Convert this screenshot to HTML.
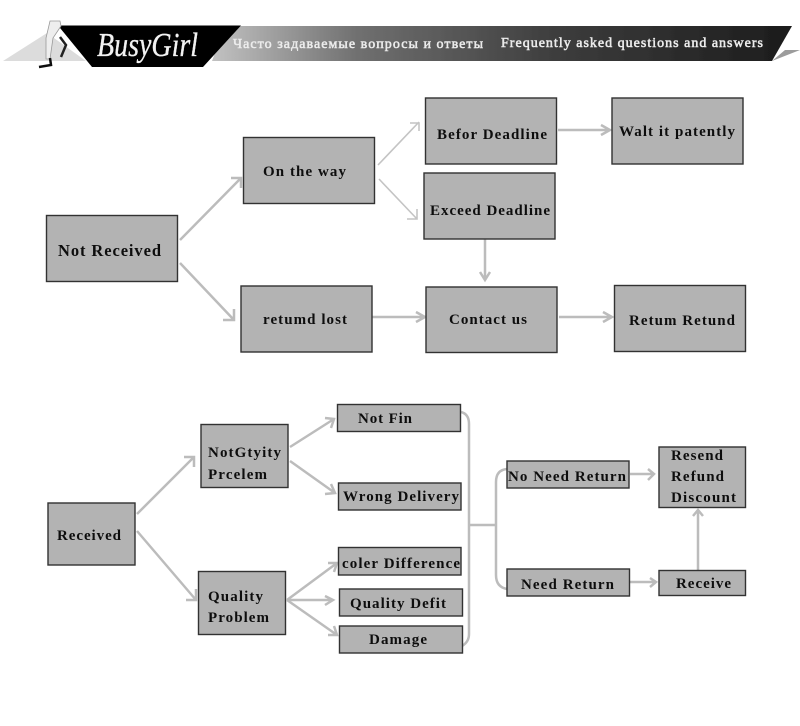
<!DOCTYPE html>
<html><head><meta charset="utf-8"><style>
html,body{margin:0;padding:0;background:#fff}
svg{display:block}
text{font-family:"Liberation Serif",serif;font-weight:bold;fill:#111;font-size:15px}
.b{fill:#b3b3b3;stroke:#333;stroke-width:1.4}
.c{fill:none;stroke:#bcbcbc;stroke-width:2.5}
.t{fill:none;stroke:#c4c4c4;stroke-width:1.6}
.h{fill:#ececec;font-size:14px;font-weight:normal;stroke:#ececec;stroke-width:.55}
</style></head><body>
<svg width="800" height="726" viewBox="0 0 800 726" xmlns="http://www.w3.org/2000/svg">
<defs>
<linearGradient id="g" x1="0" x2="1" y1="0" y2="0"><stop offset="0" stop-color="#c2c2c2"/><stop offset=".25" stop-color="#707070"/><stop offset=".6" stop-color="#3c3c3c"/><stop offset="1" stop-color="#1c1c1c"/></linearGradient>
<filter id="s" filterUnits="userSpaceOnUse" x="0" y="0" width="800" height="726"><feGaussianBlur stdDeviation="0.35"/></filter>
</defs>
<rect width="800" height="726" fill="#fff"/>
<g filter="url(#s)">
<!-- header -->
<polygon points="3,61 47,33 86,61" fill="#dcdcdc"/>
<polygon points="772,61 785,50 800,50" fill="#9c9c9c"/>
<polygon points="225,26 792,26 772,61 212,61" fill="url(#g)"/>
<polygon points="58,25.5 241,25.5 203,67 92,67" fill="#050505"/>
<path d="M50,21 L60,21 L61,26 L53,38 L50,59 L46,59 L46,38 Z" fill="#eeeeee" stroke="#999" stroke-width=".8"/>
<path d="M60,37 L66,45 L61,57" fill="none" stroke="#222" stroke-width="2.5"/>
<path d="M50,58 L51,65 L39,67" fill="none" stroke="#111" stroke-width="2.5"/>
<text x="97" y="56" textLength="101" lengthAdjust="spacingAndGlyphs" style="font-size:34px;font-weight:normal;font-style:italic;fill:#f2f2f2;stroke:#f2f2f2;stroke-width:.3">BusyGirl</text>
<text class="h" x="233" y="48" textLength="250">Часто задаваемые вопросы и ответы</text>
<text class="h" x="501" y="47" textLength="262">Frequently asked questions and answers</text>

<!-- connectors top -->
<g class="c">
<path d="M180,240 L241,178 M231,178 H241 V188"/>
<path d="M180,263 L234,320 M234,309 V320 H223"/>
<path class="t" d="M378,165 L419,122 M410,123 H419 V131"/>
<path class="t" d="M379,179 L417,219 M417,209 V219 H407"/>
<path d="M558,130 H610 M601,125 L610,130 L601,135"/>
<path d="M372,317 H425 M416,312 L425,317 L416,322"/>
<path d="M485,239 V280 M480,272 L485,280 L490,272"/>
<path d="M559,317 H612 M603,312 L612,317 L603,322"/>
<!-- connectors bottom -->
<path d="M137,514 L194,457 M184,457 H194 V467"/>
<path d="M137,531 L196,600 M196,589 V600 H186"/>
<path d="M290,447 L334,419 M325,418 L334,419 L331,428"/>
<path d="M290,461 L335,493 M331,484 L335,493 L325,494"/>
<path d="M287,600 L337,563 M328,563 L337,563 L334,572"/>
<path d="M287,600 H333 M325,596 L333,600 L325,605"/>
<path d="M287,600 L337,635 M334,626 L337,635 L328,635"/>
<path d="M461,412 Q469,414 469,424 V634 Q469,642 462,646"/>
<path d="M469,525 H496"/>
<path d="M507,469 Q496,470 496,482 V575 Q496,587 507,589"/>
<path d="M630,474 H654 M648,469 L654,474 L648,480"/>
<path d="M630,582 H656 M650,578 L656,582 L650,587"/>
<path d="M698,570 V510 M693,516 L698,510 L703,516"/>
</g>

<!-- boxes -->
<g>
<rect class="b" x="46.5" y="215.5" width="131" height="66"/>
<rect class="b" x="243.5" y="137.5" width="131" height="66"/>
<rect class="b" x="425.5" y="98" width="131" height="66"/>
<rect class="b" x="612" y="98" width="131" height="66"/>
<rect class="b" x="424" y="173" width="131" height="66"/>
<rect class="b" x="241" y="286" width="131" height="66"/>
<rect class="b" x="426" y="287" width="131" height="65.5"/>
<rect class="b" x="614.5" y="285.5" width="131" height="66"/>
<rect class="b" x="48" y="503" width="87" height="62"/>
<rect class="b" x="201" y="424.5" width="87" height="63"/>
<rect class="b" x="198.5" y="571.5" width="87" height="63"/>
<rect class="b" x="337.5" y="404.5" width="123" height="27"/>
<rect class="b" x="338.5" y="483" width="122.5" height="27"/>
<rect class="b" x="338.5" y="547.5" width="122.5" height="27.5"/>
<rect class="b" x="339.5" y="589" width="123" height="27"/>
<rect class="b" x="339.5" y="626" width="123" height="27"/>
<rect class="b" x="507" y="461" width="122" height="27"/>
<rect class="b" x="507" y="569" width="122.5" height="27"/>
<rect class="b" x="659" y="447" width="86.5" height="60.5"/>
<rect class="b" x="659" y="570.5" width="86.5" height="25"/>
</g>

<!-- labels -->
<text x="58" y="256" textLength="103" style="font-size:16.5px">Not Received</text>
<text x="263" y="176" textLength="83">On the way</text>
<text x="437" y="139" textLength="110">Befor Deadline</text>
<text x="619" y="136" textLength="116">Walt it patently</text>
<text x="430" y="215" textLength="120">Exceed Deadline</text>
<text x="263" y="324" textLength="84">retumd lost</text>
<text x="449" y="324" textLength="78">Contact us</text>
<text x="629" y="325" textLength="106">Retum Retund</text>
<text x="57" y="540" textLength="64">Received</text>
<text x="208" y="457" textLength="73">NotGtyity</text>
<text x="208" y="479" textLength="59">Prcelem</text>
<text x="208" y="601" textLength="55">Quality</text>
<text x="208" y="622" textLength="61">Problem</text>
<text x="358" y="423" textLength="54">Not Fin</text>
<text x="343" y="501" textLength="116">Wrong Delivery</text>
<text x="342" y="568" textLength="118">coler Difference</text>
<text x="350" y="608" textLength="96">Quality Defit</text>
<text x="369" y="644" textLength="58">Damage</text>
<text x="508" y="481" textLength="118">No Need Return</text>
<text x="521" y="589" textLength="93">Need Return</text>
<text x="671" y="460" textLength="52">Resend</text>
<text x="671" y="481" textLength="53">Refund</text>
<text x="671" y="502" textLength="65">Discount</text>
<text x="676" y="588" textLength="55">Receive</text>
</g>
</svg>
</body></html>
